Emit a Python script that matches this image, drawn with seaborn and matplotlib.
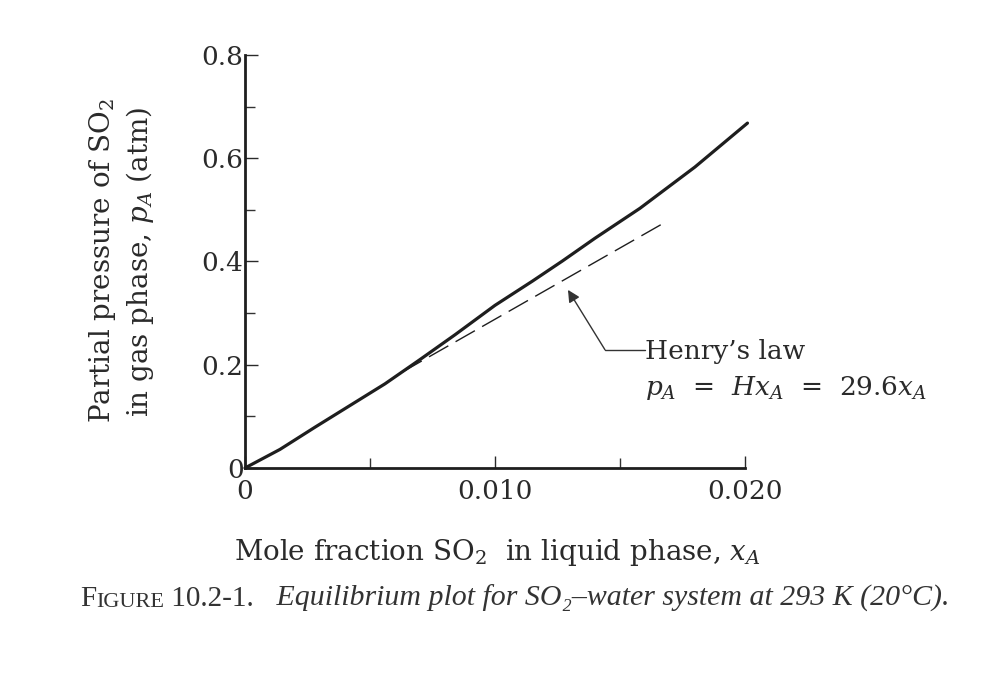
import numpy as np
import pandas as pd
import seaborn as sns
import matplotlib.pyplot as plt

# equilibrium data (SO2 - water, 293 K)
x_mole = [0, 0.0014, 0.0028, 0.0042, 0.0056, 0.0070, 0.0084, 0.0100,
          0.0115, 0.0127, 0.0140, 0.0158, 0.0180, 0.0201]
p_atm = [0, 0.036, 0.079, 0.121, 0.163, 0.210, 0.258, 0.315,
         0.362, 0.401, 0.445, 0.503, 0.583, 0.668]

# Henry's law dashed segment (as drawn)
x_henry = [0.0063, 0.0167]
p_henry = [0.186, 0.473]

x_ticks = [0, 0.010, 0.020]
x_ticklabels = ["0", "0.010", "0.020"]
y_ticks = [0, 0.2, 0.4, 0.6, 0.8]
y_ticklabels = ["0", "0.2", "0.4", "0.6", "0.8"]

sns.set_style("ticks")
plt.rcParams['font.family'] = ['DejaVu Serif']
plt.rcParams['mathtext.fontset'] = 'dejavuserif'

fig = plt.figure(figsize=(10.04, 6.76), dpi=100)
ax = fig.add_axes([0.244, 0.3077, 0.498, 0.611])

eq = pd.DataFrame({"x": x_mole, "p": p_atm})
sns.lineplot(data=eq, x="x", y="p", ax=ax, color="#1e1e1e", lw=2.3,
             estimator=None, sort=False, clip_on=False)
hl = pd.DataFrame({"x": x_henry, "p": p_henry})
sns.lineplot(data=hl, x="x", y="p", ax=ax, color="#1e1e1e", lw=1.0,
             estimator=None, sort=False)
ax.lines[-1].set_dashes((16, 6))

ax.set_xlim(0, 0.020)
ax.set_ylim(0, 0.8)
ax.set_xticks(x_ticks)
ax.set_xticklabels(x_ticklabels)
ax.set_yticks(y_ticks)
ax.set_yticklabels(y_ticklabels)
ax.set_xticks([0.005, 0.015], minor=True)
ax.set_yticks([0.1, 0.3, 0.5, 0.7], minor=True)
ax.tick_params(which="both", direction="in", color="#333333", width=1.0)
ax.tick_params(which="major", length=9)
ax.tick_params(which="minor", length=7)
ax.tick_params(axis="x", labelsize=19, pad=8, colors="#2a2a2a")
ax.tick_params(axis="y", labelsize=19, pad=1, colors="#2a2a2a")
ax.set_xlabel("")
ax.set_ylabel("")

sns.despine(ax=ax)
for s in ["left", "bottom"]:
    ax.spines[s].set_linewidth(2.0)
    ax.spines[s].set_color("#1e1e1e")

# Henry's law callout
bend = (0.0144, 0.229)
tip = (0.01292, 0.345)
text_x = 0.016
ax.plot([bend[0], text_x], [bend[1], bend[1]], color="#333333", lw=1.0)
ax.annotate("", xy=tip, xytext=bend,
            arrowprops=dict(arrowstyle="-|>", color="#333333", lw=1.0,
                            mutation_scale=18, shrinkA=0, shrinkB=0))
ax.text(text_x, 0.225, "Henry\u2019s law", fontsize=19, color="#2a2a2a",
        ha="left", va="center")
ax.text(text_x, 0.155, r"$p_A$  =  $Hx_A$  =  29.6$x_A$", fontsize=19,
        color="#2a2a2a", ha="left", va="center")

# axis labels
fig.text(0.1025, 0.615, r"Partial pressure of SO$_2$", rotation=90,
         fontsize=20, color="#2a2a2a", ha="center", va="center")
fig.text(0.1395, 0.612, r"in gas phase, $p_A$ (atm)", rotation=90,
         fontsize=20, color="#2a2a2a", ha="center", va="center")
fig.text(0.495, 0.182, r"Mole fraction SO$_2$  in liquid phase, $x_A$",
         fontsize=20, color="#2a2a2a", ha="center", va="center")

# caption
cap = dict(family=['Liberation Serif', 'DejaVu Serif'], color="#333333",
           annotation_clip=False)
t1 = fig.text(0.080, 0.104, "F", fontsize=21, va="baseline",
              family=['Liberation Serif', 'DejaVu Serif'], color="#333333")
t2 = ax.annotate("IGURE", xy=(1, 0), xycoords=t1, fontsize=16,
                 va="bottom", **cap)
t3 = ax.annotate(" 10.2-1.", xy=(1, 0), xycoords=t2, fontsize=21,
                 va="bottom", **cap)
ax.annotate("   Equilibrium plot for SO\u2082\u2013water system at 293 K (20\u00b0C).",
            xy=(1, 0), xycoords=t3, fontsize=21.5, va="bottom",
            style="italic", **cap)

fig.savefig("out.png", dpi=100)
